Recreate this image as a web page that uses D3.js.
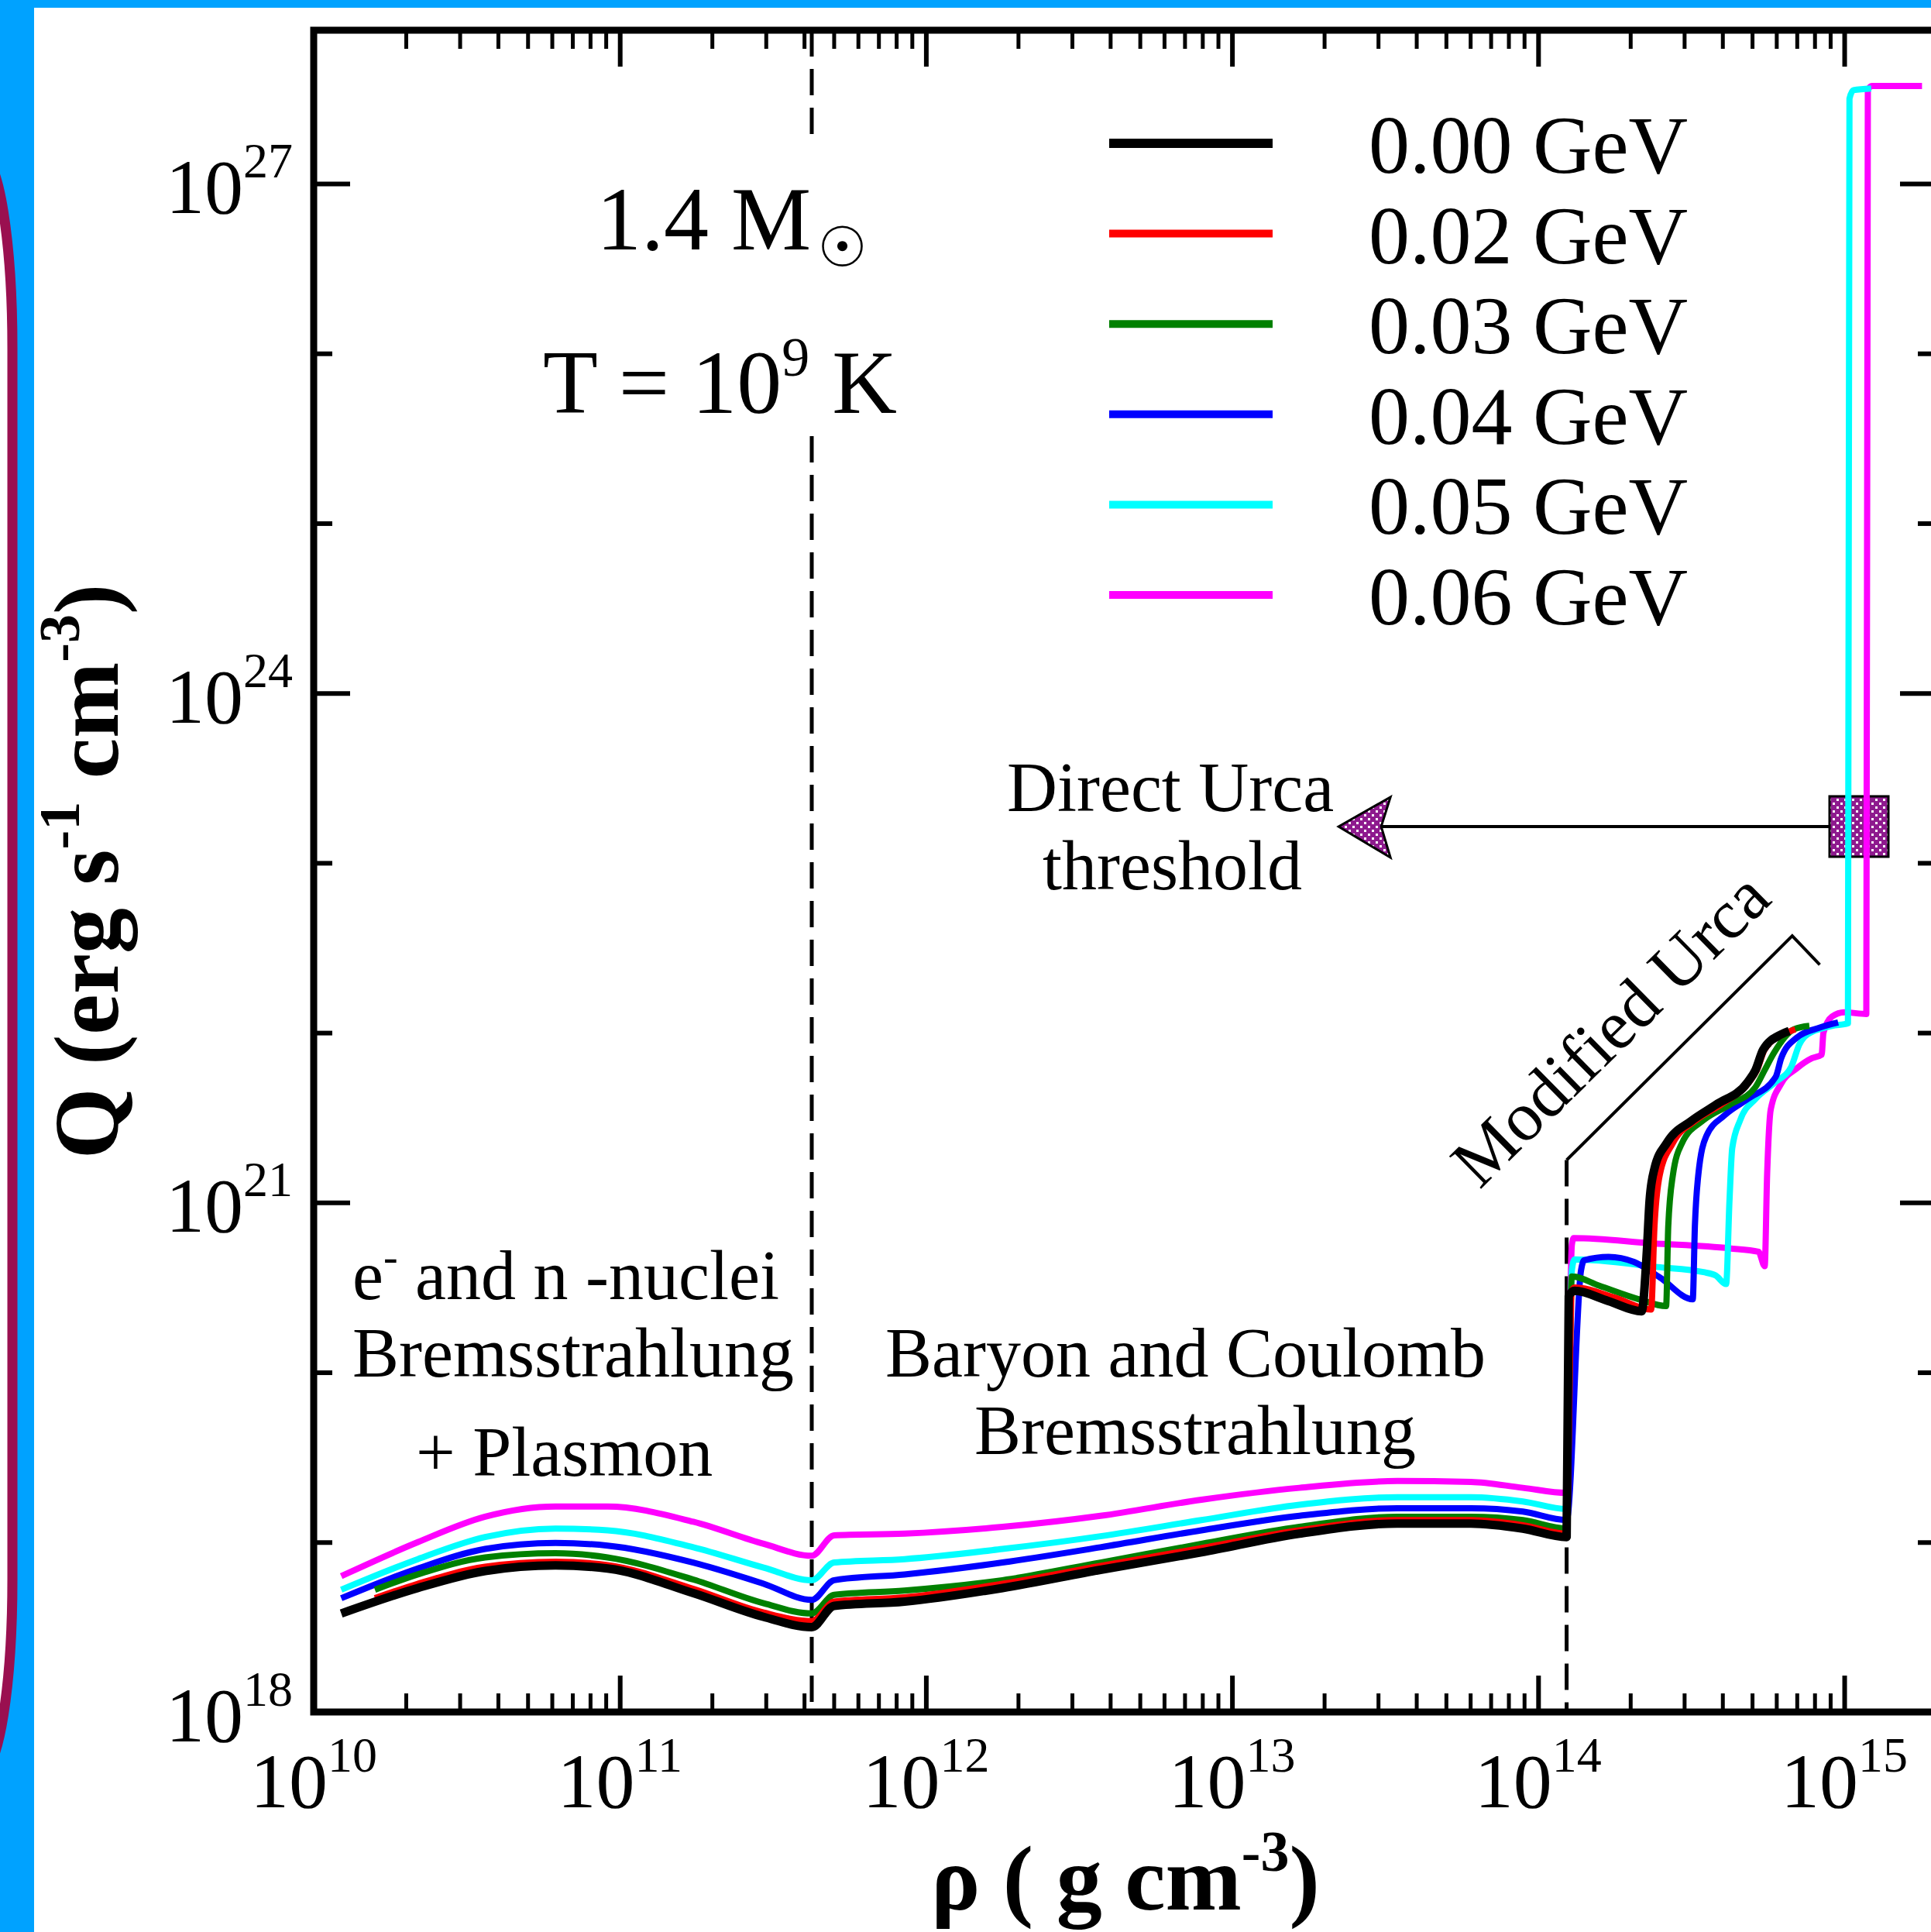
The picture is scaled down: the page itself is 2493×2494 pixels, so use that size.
<!DOCTYPE html>
<html>
<head>
<meta charset="utf-8">
<script src="https://cdn.jsdelivr.net/npm/d3@7"></script>
<style>
  html, body { margin: 0; padding: 0; background: #00a2ff; }
  svg { display: block; }
  text { font-family: "Liberation Serif", "Times New Roman", serif; fill: #000; }
</style>
</head>
<body>
<svg id="chart" width="2493" height="2494"></svg>
<script>
// all values are log10(rho) , log10(Q)
const seriesNames = ['0.00 GeV', '0.02 GeV', '0.03 GeV', '0.04 GeV', '0.05 GeV', '0.06 GeV'];
const seriesColors = ['#000000', '#ff0000', '#008000', '#0000ff', '#00ffff', '#ff00ff'];

const q000 = [[10.09,18.58],[10.34,18.73],[10.56,18.83],[10.79,18.863],[10.96,18.845],[11.24,18.70],[11.47,18.56],[11.627,18.50],[11.70,18.625],[11.93,18.65],[12.25,18.73],[12.57,18.837],[12.90,18.94],[13.22,19.05],[13.54,19.11],[13.78,19.11],[13.95,19.08],[14.093,19.03],[14.10,20.45],[14.119,20.48],[14.229,20.42],[14.338,20.36],[14.355,20.71],[14.364,21.01],[14.38,21.20],[14.42,21.35],[14.50,21.48],[14.58,21.575],[14.685,21.71],[14.71,21.78],[14.735,21.90],[14.794,21.99],[14.82,22.01]];
const q002 = [[10.20,18.67],[10.34,18.755],[10.56,18.855],[10.79,18.885],[10.96,18.865],[11.24,18.725],[11.47,18.585],[11.627,18.535],[11.70,18.65],[11.93,18.675],[12.25,18.755],[12.57,18.86],[12.90,18.965],[13.22,19.07],[13.54,19.13],[13.78,19.13],[13.95,19.10],[14.093,19.05],[14.11,20.48],[14.119,20.50],[14.25,20.44],[14.369,20.37],[14.38,20.86],[14.397,21.16],[14.44,21.35],[14.516,21.485],[14.60,21.58],[14.69,21.71],[14.715,21.78],[14.74,21.90],[14.80,21.99],[14.84,22.02]];
const q003 = [[10.20,18.72],[10.34,18.81],[10.56,18.91],[10.79,18.935],[10.96,18.91],[11.24,18.78],[11.47,18.64],[11.627,18.58],[11.70,18.69],[11.93,18.715],[12.25,18.776],[12.57,18.88],[12.90,18.99],[13.22,19.09],[13.54,19.15],[13.78,19.15],[13.95,19.13],[14.093,19.08],[14.11,20.565],[14.20,20.51],[14.33,20.43],[14.418,20.39],[14.425,20.86],[14.44,21.16],[14.47,21.35],[14.54,21.485],[14.625,21.575],[14.71,21.68],[14.74,21.78],[14.77,21.88],[14.836,22.02],[14.886,22.04]];
const q004 = [[10.09,18.67],[10.34,18.845],[10.56,18.96],[10.79,18.995],[10.96,18.98],[11.24,18.88],[11.47,18.755],[11.627,18.66],[11.70,18.776],[11.93,18.81],[12.25,18.88],[12.57,18.97],[12.90,19.07],[13.22,19.155],[13.54,19.20],[13.78,19.20],[13.95,19.18],[14.093,19.13],[14.14,20.60],[14.15,20.66],[14.23,20.68],[14.313,20.65],[14.397,20.56],[14.505,20.43],[14.512,20.86],[14.523,21.16],[14.549,21.39],[14.61,21.515],[14.685,21.61],[14.776,21.74],[14.794,21.85],[14.844,21.97],[14.92,22.03],[14.98,22.06]];
const q005 = [[10.09,18.72],[10.34,18.90],[10.56,19.03],[10.79,19.08],[10.96,19.07],[11.24,18.97],[11.47,18.85],[11.627,18.776],[11.70,18.88],[11.93,18.90],[12.25,18.96],[12.57,19.035],[12.90,19.13],[13.22,19.22],[13.54,19.265],[13.78,19.265],[13.95,19.24],[14.093,19.195],[14.11,20.60],[14.119,20.665],[14.39,20.62],[14.54,20.59],[14.58,20.57],[14.614,20.52],[14.625,21.01],[14.634,21.32],[14.66,21.485],[14.71,21.61],[14.776,21.71],[14.827,21.80],[14.853,21.93],[14.88,21.99],[14.96,22.04],[15.012,22.055],[15.017,27.50],[15.03,27.55],[15.088,27.56]];
const q006 = [[10.09,18.80],[10.34,19.0],[10.56,19.15],[10.79,19.21],[10.96,19.21],[11.24,19.12],[11.47,18.99],[11.627,18.92],[11.70,19.04],[11.93,19.05],[12.25,19.09],[12.57,19.155],[12.90,19.25],[13.22,19.32],[13.54,19.36],[13.78,19.355],[13.95,19.32],[14.093,19.29],[14.11,20.75],[14.116,20.79],[14.372,20.76],[14.625,20.73],[14.72,20.71],[14.74,20.625],[14.748,21.165],[14.76,21.55],[14.794,21.70],[14.845,21.79],[14.895,21.85],[14.926,21.87],[14.932,22.00],[14.96,22.095],[15.0,22.12],[15.072,22.11],[15.077,27.55],[15.09,27.575],[15.254,27.575]];
const allSeries = [q000, q002, q003, q004, q005, q006];

const xMajor = [10, 11, 12, 13, 14, 15];
const yMajor = [18, 21, 24, 27];
const yMinor = [19, 20, 22, 23, 25, 26];

const dripRho = 11.627;     // first dashed line
const coreRho = 14.093;     // second dashed line
const bracket = [[14.093, 21.25], [14.83, 22.57], [14.92, 22.40]];
const durca = { rho: 15.048, q: 23.214, tip: 13.348 };

// sizing
const W = 2493, H = 2494;
const pl = 405, pr = 2500, pt = 39, pb = 2210;

const x = d3.scaleLog().domain([1e10, 2e15]).range([pl, pr]);
const y = d3.scaleLog().domain([1e18, 8e27]).range([pb, pt]);
const px = v => x(Math.pow(10, v));
const py = v => y(Math.pow(10, v));

const svg = d3.select('#chart');

// slide background
svg.append('rect').attr('width', W).attr('height', H).attr('fill', '#00a2ff');
svg.append('rect').attr('x', -400).attr('y', 200).attr('width', 416).attr('height', 2088)
   .attr('rx', 40).attr('ry', 250).attr('fill', '#fff').attr('stroke', '#9a1050').attr('stroke-width', 13);
svg.append('rect').attr('x', 44).attr('y', 10).attr('width', W - 44).attr('height', H - 10).attr('fill', '#fff');

const defs = svg.append('defs');
defs.append('clipPath').attr('id', 'plot').append('rect')
    .attr('x', pl).attr('y', pt).attr('width', pr - pl).attr('height', pb - pt);
const pat = defs.append('pattern').attr('id', 'check').attr('patternUnits', 'userSpaceOnUse')
    .attr('width', 10).attr('height', 10);
pat.append('rect').attr('width', 10).attr('height', 10).attr('fill', '#8e1a8e');
pat.append('rect').attr('x', 1).attr('y', 1).attr('width', 3).attr('height', 3).attr('fill', '#fff');
pat.append('rect').attr('x', 6).attr('y', 6).attr('width', 3).attr('height', 3).attr('fill', '#fff');

// minor x ticks
let xMinor = [];
xMajor.forEach(e => { for (let k = 2; k <= 9; k++) { if (k * Math.pow(10, e) < 2e15) xMinor.push(k * Math.pow(10, e)); } });
const xMaj = xMajor.map(e => Math.pow(10, e));
const yMaj = yMajor.map(e => Math.pow(10, e));
const yMin = yMinor.map(e => Math.pow(10, e));

function tickAxis(axis, pos, vals, size, sw) {
  svg.append('g')
     .attr('transform', pos)
     .call(axis.tickValues(vals).tickSize(size).tickSizeOuter(0).tickFormat(''))
     .call(g => g.select('.domain').remove())
     .call(g => g.selectAll('line').attr('stroke', '#000').attr('stroke-width', sw));
}
tickAxis(d3.axisBottom(x), 'translate(0,' + pb + ')', xMaj, -47, 6);
tickAxis(d3.axisBottom(x), 'translate(0,' + pb + ')', xMinor, -24, 5);
tickAxis(d3.axisTop(x), 'translate(0,' + pt + ')', xMaj, -47, 6);
tickAxis(d3.axisTop(x), 'translate(0,' + pt + ')', xMinor, -24, 5);
tickAxis(d3.axisLeft(y), 'translate(' + pl + ',0)', yMaj, -47, 6);
tickAxis(d3.axisLeft(y), 'translate(' + pl + ',0)', yMin, -24, 6);
tickAxis(d3.axisRight(y), 'translate(' + pr + ',0)', yMaj, -47, 6);
tickAxis(d3.axisRight(y), 'translate(' + pr + ',0)', yMin, -24, 6);

// tick labels
const xl = svg.append('g').selectAll('text').data(xMajor).enter().append('text')
   .attr('x', d => px(d)).attr('y', 2333).attr('text-anchor', 'middle').attr('font-size', 100);
xl.append('tspan').text('10');
xl.append('tspan').attr('font-size', 64).attr('dy', -46).text(d => d);

const yl = svg.append('g').selectAll('text').data(yMajor).enter().append('text')
   .attr('x', 378).attr('y', d => py(d) + 38).attr('text-anchor', 'end').attr('font-size', 100);
yl.append('tspan').text('10');
yl.append('tspan').attr('font-size', 64).attr('dy', -46).text(d => d);

// dashed region borders
const dash = '34,16';
svg.append('line').attr('x1', px(dripRho)).attr('x2', px(dripRho)).attr('y1', pt).attr('y2', 187)
   .attr('stroke', '#000').attr('stroke-width', 5).attr('stroke-dasharray', dash);
svg.append('line').attr('x1', px(dripRho)).attr('x2', px(dripRho)).attr('y1', 563).attr('y2', pb)
   .attr('stroke', '#000').attr('stroke-width', 5).attr('stroke-dasharray', dash);
svg.append('line').attr('x1', px(coreRho)).attr('x2', px(coreRho)).attr('y1', py(bracket[0][1])).attr('y2', pb)
   .attr('stroke', '#000').attr('stroke-width', 5).attr('stroke-dasharray', dash);

// modified urca bracket
svg.append('path')
   .attr('d', d3.line().x(d => px(d[0])).y(d => py(d[1]))(bracket))
   .attr('fill', 'none').attr('stroke', '#000').attr('stroke-width', 4);
svg.append('text').attr('transform', 'translate(2100,1350) rotate(-44.5)')
   .attr('text-anchor', 'middle').attr('font-size', 90).text('Modified Urca');

// direct urca threshold marker
const bx = px(durca.rho), by = py(durca.q), tx = px(durca.tip);
svg.append('line').attr('x1', tx + 55).attr('x2', bx - 38).attr('y1', by).attr('y2', by)
   .attr('stroke', '#000').attr('stroke-width', 4);
svg.append('path')
   .attr('d', 'M' + tx + ',' + by + 'L' + (tx + 67) + ',' + (by - 38) + 'L' + (tx + 55) + ',' + by + 'L' + (tx + 67) + ',' + (by + 40) + 'Z')
   .attr('fill', 'url(#check)').attr('stroke', '#000').attr('stroke-width', 3).attr('stroke-linejoin', 'miter');
svg.append('rect').attr('x', bx - 38).attr('y', by - 39).attr('width', 76).attr('height', 78)
   .attr('fill', 'url(#check)').attr('stroke', '#000').attr('stroke-width', 3);

// the curves
const line = d3.line().x(d => px(d[0])).y(d => py(d[1])).curve(d3.curveMonotoneX);
const curves = svg.append('g').attr('clip-path', 'url(#plot)');
for (let i = allSeries.length - 1; i >= 0; i--) {
  curves.append('path')
     .attr('d', line(allSeries[i]))
     .attr('fill', 'none')
     .attr('stroke', seriesColors[i])
     .attr('stroke-width', i === 0 ? 11 : 8)
     .attr('stroke-linejoin', 'round');
}

// frame
svg.append('rect').attr('x', pl).attr('y', pt).attr('width', pr - pl).attr('height', pb - pt)
   .attr('fill', 'none').attr('stroke', '#000').attr('stroke-width', 9);

// legend
const leg = svg.append('g');
seriesNames.forEach((n, i) => {
  const ly = 185 + i * 116.6;
  leg.append('line').attr('x1', 1432).attr('x2', 1643).attr('y1', ly).attr('y2', ly)
     .attr('stroke', seriesColors[i]).attr('stroke-width', i === 0 ? 12 : 10);
  leg.append('text').attr('x', 1767).attr('y', ly + 38).attr('font-size', 106).text(n);
});

// annotations
const m = svg.append('text').attr('x', 770).attr('y', 322).attr('font-size', 116);
m.append('tspan').text('1.4 M');
m.append('tspan').attr('font-family', 'DejaVu Sans').attr('font-size', 72).attr('dx', 8).attr('dy', 22).text('\u2609');

const t = svg.append('text').attr('x', 701).attr('y', 533).attr('font-size', 116);
t.append('tspan').text('T = 10');
t.append('tspan').attr('font-size', 72).attr('dy', -48).text('9');
t.append('tspan').attr('dy', 48).text(' K');

const e1 = svg.append('text').attr('x', 455).attr('y', 1677).attr('font-size', 90);
e1.append('tspan').text('e');
e1.append('tspan').attr('font-size', 56).attr('dy', -36).text('-');
e1.append('tspan').attr('dy', 36).text(' and n -nuclei');
svg.append('text').attr('x', 455).attr('y', 1777).attr('font-size', 90).text('Bremsstrahlung');
svg.append('text').attr('x', 537).attr('y', 1905).attr('font-size', 90).text('+ Plasmon');
svg.append('text').attr('x', 1143).attr('y', 1777).attr('font-size', 90).text('Baryon and Coulomb');
svg.append('text').attr('x', 1258).attr('y', 1877).attr('font-size', 90).text('Bremsstrahlung');
svg.append('text').attr('x', 1300).attr('y', 1047).attr('font-size', 90).text('Direct Urca');
svg.append('text').attr('x', 1346).attr('y', 1148).attr('font-size', 90).text('threshold');

// axis titles
const xt = svg.append('text').attr('x', 1453).attr('y', 2465).attr('text-anchor', 'middle')
   .attr('font-size', 118).attr('font-weight', 'bold');
xt.append('tspan').text('\u03c1 ( g cm');
xt.append('tspan').attr('font-size', 74).attr('dy', -50).text('-3');
xt.append('tspan').attr('dy', 50).text(')');

const yt = svg.append('text').attr('transform', 'translate(152,1125) rotate(-90)').attr('text-anchor', 'middle')
   .attr('font-size', 118).attr('font-weight', 'bold');
yt.append('tspan').text('Q (erg s');
yt.append('tspan').attr('font-size', 74).attr('dy', -50).text('-1');
yt.append('tspan').attr('dy', 50).text(' cm');
yt.append('tspan').attr('font-size', 74).attr('dy', -50).text('-3');
yt.append('tspan').attr('dy', 50).text(')');
</script>
</body>
</html>
